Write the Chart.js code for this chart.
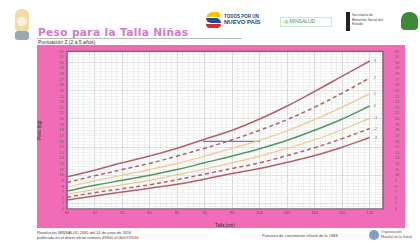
<!DOCTYPE html>
<html><head><meta charset="utf-8">
<script src="https://cdn.jsdelivr.net/npm/chart.js@4/dist/chart.umd.min.js"></script>
<style>
html,body{margin:0;padding:0;background:#fff;width:420px;height:242px;overflow:hidden;font-family:"Liberation Sans",Arial,sans-serif;}
.abs{position:absolute;}
#panel{position:absolute;left:37px;top:45px;width:368px;height:183px;background:#f06cb6;}
#title{left:38px;top:26px;font-size:10.5px;font-weight:bold;color:#d279c9;letter-spacing:0.4px;white-space:nowrap;font-family:"DejaVu Sans",sans-serif;}
#sub{left:38px;top:39px;font-size:5px;color:#333;white-space:nowrap;}
#rule{left:37px;top:38px;width:205px;height:1px;background:#bbb;}
.tiny{font-size:4px;color:#444;white-space:nowrap;line-height:5px;}
</style></head>
<body>
<!-- header decorations -->
<div class="abs" style="left:15px;top:9px;width:14px;height:22px;background:#f1dca2;border-radius:6px 6px 3px 3px;"></div>
<div class="abs" style="left:17px;top:17px;width:10px;height:9px;background:#fbeee0;border-radius:5px;"></div>
<div class="abs" style="left:15px;top:31px;width:14px;height:9px;background:#9aa7b5;border-radius:3px;"></div>
<div class="abs" id="title">Peso para la Talla Niñas</div>
<div class="abs" id="rule"></div>
<div class="abs" id="sub">Puntuación Z (2 a 5 años)</div>

<div class="abs" style="left:207px;top:12px;width:14px;height:5px;background:#f4c400;border-radius:7px 7px 0 0;transform:skewX(-20deg);"></div>
<div class="abs" style="left:206px;top:18px;width:15px;height:5px;background:#1f4aa0;border-radius:0 7px 0 7px;"></div>
<div class="abs" style="left:206px;top:24px;width:15px;height:4px;background:#d62a2a;border-radius:0 0 7px 7px;"></div>
<div class="abs tiny" style="left:224px;top:14px;color:#1f3f8a;font-weight:bold;font-size:4.5px;">TODOS POR UN</div>
<div class="abs tiny" style="left:224px;top:19px;color:#1f3f8a;font-weight:bold;font-size:6px;line-height:7px;">NUEVO PAÍS</div>

<div class="abs" style="left:280px;top:17px;width:50px;height:8px;border:1px solid #cfe6cf;"></div>
<div class="abs tiny" style="left:284px;top:18.5px;color:#3a9a4a;font-size:5px;">◎ MINSALUD</div>

<div class="abs" style="left:346px;top:12px;width:4px;height:19px;background:#222;"></div>
<div class="abs tiny" style="left:352px;top:13px;font-size:3.5px;line-height:4.5px;">Secretaría de<br>Bienestar Social del<br>Estado</div>
<div class="abs" style="left:401px;top:12px;width:17px;height:18px;background:#3f8a3a;border-radius:8px 8px 4px 4px;"></div>

<div id="panel"><canvas id="c" width="368" height="183"></canvas></div>

<div class="abs tiny" style="left:37px;top:230px;">Resolución MINSALUD 2465 del 14 de junio de 2016</div>
<div class="abs tiny" style="left:37px;top:235px;">publicada en el diario oficial número 49900 el 06/07/2016.</div>
<div class="abs tiny" style="left:262px;top:233px;">Patrones de crecimiento infantil de la OMS</div>
<div class="abs" style="left:369px;top:230px;width:10px;height:10px;border-radius:50%;background:#7d9fc8;"></div>
<div class="abs tiny" style="left:381px;top:230px;font-size:3.5px;line-height:4.5px;color:#555;">Organización<br>Mundial de la Salud</div>

<script>
const heights = [65,70,75,80,85,90,95,100,105,110,115,120];
const sdPos3 = [9.7,10.9,12.2,13.4,14.8,16.4,18.0,20.0,22.3,24.9,27.6,30.3];
const sdPos2 = [8.7,9.9,11.0,12.1,13.4,14.8,16.3,18.0,19.9,22.1,24.6,27.3];
const sdPos1 = [7.9,9.0,10.0,11.0,12.1,13.4,14.8,16.2,17.9,19.9,22.1,24.5];
const sd0    = [7.2,8.2,9.1,10.0,11.0,12.2,13.4,14.7,16.2,18.0,20.0,22.3];
const sdNeg1 = [6.6,7.5,8.3,9.1,10.1,11.1,12.2,13.4,14.8,16.3,18.1,20.1];
const sdNeg2 = [6.1,6.9,7.6,8.3,9.2,10.2,11.2,12.2,13.5,14.9,16.5,18.3];
const sdNeg3 = [5.6,6.3,7.0,7.7,8.4,9.3,10.3,11.2,12.3,13.5,15.0,16.7];
const zLabels = ['3','2','1','0','-1','-2','-3'];
const markerX = [89.7,100];
const markerY = [16.0,16.0];
const xTicks = [65,70,75,80,85,90,95,100,105,110,115,120];
const yMin = 4, yMax = 32;

const pts = arr => arr.map((v,i)=>({x:heights[i],y:v}));
const red = '#b4606c', yel = '#efc98c', grn = '#4f9a64';
function ds(arr, color, width, dash){
  return {data:pts(arr), borderColor:color, borderWidth:width, borderDash:dash||[], pointRadius:0, tension:0.4, fill:false};
}
const datasets = [
  ds(sdPos3, red, 1.5), ds(sdPos2, red, 1.5, [4,3]), ds(sdPos1, yel, 1.2), ds(sd0, grn, 1.5),
  ds(sdNeg1, yel, 1.2), ds(sdNeg2, red, 1.5, [4,3]), ds(sdNeg3, red, 1.5),
  {data:markerX.map((x,i)=>({x:x,y:markerY[i]})), borderColor:'#5b7fc4', borderWidth:1.3, pointRadius:0, tension:0}
];

const bgPlugin = {
  id:'bg',
  beforeDraw(chart){
    const {ctx, chartArea:a} = chart;
    ctx.save(); ctx.fillStyle='#fff'; ctx.fillRect(a.left,a.top,a.right-a.left,a.bottom-a.top); ctx.restore();
  },
  afterDatasetsDraw(chart){
    const {ctx, chartArea:a} = chart;
    ctx.save();
    ctx.font='4px "Liberation Sans"'; ctx.fillStyle='#777'; ctx.textBaseline='middle';
    for(let i=0;i<7;i++){
      const meta = chart.getDatasetMeta(i);
      const p = meta.data[meta.data.length-1];
      ctx.fillText(zLabels[i], p.x+4, p.y);
    }
    ctx.strokeStyle='#7a6676'; ctx.lineWidth=1.5;
    ctx.strokeRect(a.left,a.top,a.right-a.left,a.bottom-a.top);
    ctx.restore();
  }
};

const tickFont = {size:4, family:'"Liberation Sans"'};
new Chart(document.getElementById('c'), {
  type:'line',
  data:{datasets},
  options:{
    responsive:false, animation:false, events:[],
    layout:{padding:{top:6,right:0,left:0,bottom:0}},
    plugins:{legend:{display:false}, tooltip:{enabled:false}},
    scales:{
      x:{type:'linear', min:65, max:122.4,
        afterBuildTicks(s){ const t=[]; for(let v=65; v<=122; v++) t.push({value:v}); s.ticks=t; },
        afterFit(s){ s.height=19; },
        ticks:{font:tickFont, color:'#555', padding:1, maxRotation:0, autoSkip:false,
          callback:v=> xTicks.includes(v)? String(v) : ''},
        grid:{color:c=> (c.tick && c.tick.value%5===0)? '#c9c9c9':'#ececec', lineWidth:0.8, drawTicks:false},
        border:{display:false},
        title:{display:true, text:'Talla (cm)', font:{size:4.5, family:'"Liberation Sans"'}, color:'#333', padding:{top:2,bottom:0}}
      },
      y:{type:'linear', position:'left', min:yMin, max:yMax,
        afterBuildTicks(s){ const t=[]; for(let v=yMin; v<=yMax; v+=0.5) t.push({value:v}); s.ticks=t; },
        afterFit(s){ s.width=30; },
        ticks:{font:tickFont, color:'#666', padding:3, autoSkip:false, callback:v=> Number.isInteger(v)? String(v):''},
        grid:{color:c=> (c.tick && c.tick.value%5===0)? '#d9d9d9':'#efefef', lineWidth:0.8, drawTicks:false},
        border:{display:false},
        title:{display:true, text:'Peso (kg)', font:{size:4.5, family:'"Liberation Sans"'}, color:'#333', padding:{top:0,bottom:4}}
      },
      y2:{type:'linear', position:'right', min:yMin, max:yMax,
        afterBuildTicks(s){ const t=[]; for(let v=yMin; v<=yMax; v++) t.push({value:v}); s.ticks=t; },
        afterFit(s){ s.width=22; },
        ticks:{font:tickFont, color:'#666', padding:4, autoSkip:false},
        grid:{display:false}, border:{display:false}
      }
    }
  },
  plugins:[bgPlugin]
});
</script>
</body></html>
